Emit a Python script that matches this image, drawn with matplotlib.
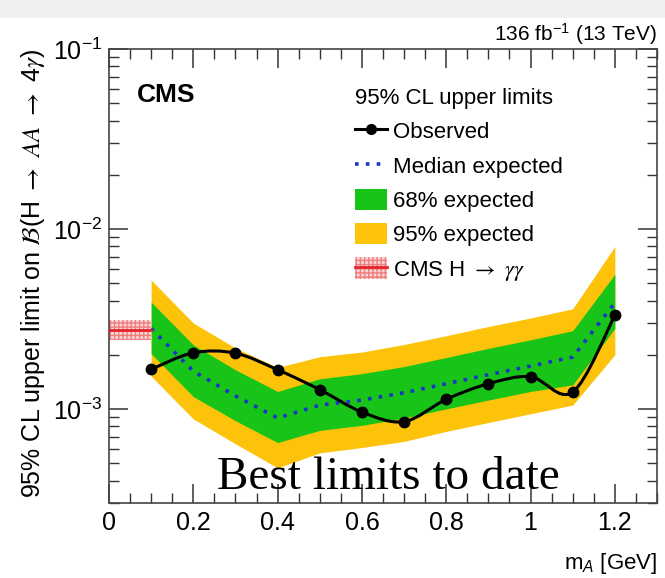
import numpy as np
import matplotlib
matplotlib.use("Agg")
import matplotlib.pyplot as plt
from matplotlib.lines import Line2D
from matplotlib.patches import Patch, PathPatch, Rectangle
from matplotlib.path import Path
from matplotlib.ticker import MultipleLocator, LogLocator, NullFormatter, FuncFormatter

plt.rcParams["font.family"] = ["Liberation Sans", "DejaVu Sans"]
plt.rcParams["mathtext.fontset"] = "custom"
plt.rcParams["mathtext.rm"] = "Liberation Sans"
plt.rcParams["mathtext.it"] = "Liberation Sans:italic"
plt.rcParams["mathtext.bf"] = "Liberation Sans:bold"

# values (limits in units of 1e-3)
mass = [0.1, 0.2, 0.3, 0.4, 0.5, 0.6, 0.7, 0.8, 0.9, 1.0, 1.1, 1.2]
observed = [1.66, 2.05, 2.04, 1.65, 1.28, 0.96, 0.85, 1.13, 1.38, 1.51, 1.24, 3.31]
median = [2.80, 1.62, 1.18, 0.89, 1.05, 1.12, 1.23, 1.38, 1.55, 1.73, 1.94, 3.88]
band68_hi = [3.92, 2.27, 1.65, 1.25, 1.47, 1.57, 1.72, 1.93, 2.17, 2.42, 2.72, 5.60]
band68_lo = [2.03, 1.17, 0.86, 0.65, 0.76, 0.81, 0.89, 1.00, 1.12, 1.25, 1.36, 2.80]
band95_hi = [5.20, 3.00, 2.18, 1.70, 1.95, 2.07, 2.28, 2.55, 2.87, 3.20, 3.60, 8.00]
band95_lo = [1.52, 0.88, 0.64, 0.47, 0.57, 0.61, 0.66, 0.75, 0.84, 0.94, 1.05, 2.00]

# CMS H -> gamma gamma result, drawn over 0 < m_A < 0.1
hgg_range = [0.0, 0.1]
hgg_central = 2.75
hgg_lo, hgg_hi = 2.40, 3.12

scale = 1e-3
x = np.array(mass)
obs = np.array(observed) * scale

GREEN = "#17c417"
YELLOW = "#fdc20a"
BLUE = "#1a34c4"

fig = plt.figure(figsize=(6.65, 5.78), dpi=100)
fig.patches.append(Rectangle((0, 1 - 18 / 578), 1, 18 / 578, transform=fig.transFigure,
                             facecolor="#efefef", edgecolor="none", zorder=0))
ax = fig.add_axes([109 / 665, 75 / 578, 548 / 665, 454 / 578])

ax.fill_between(x, np.array(band95_lo) * scale, np.array(band95_hi) * scale,
                color=YELLOW, linewidth=0, zorder=1)
ax.fill_between(x, np.array(band68_lo) * scale, np.array(band68_hi) * scale,
                color=GREEN, linewidth=0, zorder=2)
ax.plot(x, np.array(median) * scale, linestyle=(0, (1, 2)), color=BLUE, lw=2.6, zorder=3)

# H -> gamma gamma band
ax.fill_between(hgg_range, hgg_lo * scale, hgg_hi * scale, facecolor="#fcd6d6",
                edgecolor="#ef7f7f", hatch="++++", linewidth=0, zorder=2)
ax.plot(hgg_range, [hgg_central * scale] * 2, color="#e3242b", lw=2, zorder=3)

# smooth observed curve (Catmull-Rom through the points, in log space)
ly = np.log10(obs)
pts = np.column_stack([x, ly])
ext = np.vstack([pts[0], pts, pts[-1]])
verts = [pts[0]]
codes = [Path.MOVETO]
for i in range(len(pts) - 1):
    p0, p1, p2, p3 = ext[i], ext[i + 1], ext[i + 2], ext[i + 3]
    c1 = p1 + (p2 - p0) / 6
    c2 = p2 - (p3 - p1) / 6
    verts += [c1, c2, p2]
    codes += [Path.CURVE4] * 3
verts = np.array(verts)
verts[:, 1] = 10 ** verts[:, 1]
ax.add_patch(PathPatch(Path(verts, codes), facecolor="none", edgecolor="black",
                       lw=2.2, zorder=4))
ax.plot(x, obs, "o", color="black", ms=7.5, zorder=5)

ax.set_yscale("log")
ax.set_xlim(0, 1.3)
ax.set_ylim(3e-4, 1e-1)

ax.xaxis.set_major_locator(MultipleLocator(0.2))
ax.xaxis.set_minor_locator(MultipleLocator(0.05))
ax.yaxis.set_major_locator(LogLocator(base=10, numticks=10))
ax.yaxis.set_minor_locator(LogLocator(base=10, subs=np.arange(2, 10), numticks=20))
ax.yaxis.set_minor_formatter(NullFormatter())
ax.xaxis.set_major_formatter(FuncFormatter(lambda v, p: f"{v:g}"))

ax.tick_params(which="both", direction="in", top=True, right=True, colors="#333333",
               labelcolor="black", labelsize=18)
ax.tick_params(which="major", length=14, width=1.1)
ax.tick_params(which="minor", length=7, width=1.0)
ax.tick_params(axis="x", pad=6)
ax.tick_params(axis="y", pad=5)
for s in ax.spines.values():
    s.set_color("#444444")
    s.set_linewidth(1.2)

ax.set_xlabel(r"m$_{A}$ [GeV]", fontsize=16, loc="right", labelpad=11)
ax.set_ylabel(r"95% CL upper limit on $\mathcal{B}$(H $\rightarrow$ $AA$ $\rightarrow$ 4$\gamma$)",
              fontsize=18, loc="top", labelpad=4, math_fontfamily="stix")

ax.text(0.05, 0.925, "CMS", transform=ax.transAxes, fontsize=19, fontweight="bold",
        va="top", ha="left")
ax.text(1.0, 1.004, r"136 fb$^{-1}$ (13 TeV)", transform=ax.transAxes, fontsize=15,
        ha="right", va="bottom")
ax.text(0.51, 0.055, "Best limits to date", transform=ax.transAxes,
        fontsize=34, family="Liberation Serif", ha="center", va="center", zorder=6)

handles = [
    Line2D([], [], color="black", lw=2.2, marker="o", ms=7),
    Line2D([], [], color=BLUE, lw=2.6, linestyle=(0, (1, 2))),
    Patch(facecolor=GREEN, edgecolor="none"),
    Patch(facecolor=YELLOW, edgecolor="none"),
    (Patch(facecolor="#fcd6d6", edgecolor="#ef7f7f", hatch="++++", lw=0),
     Line2D([], [], color="#e3242b", lw=2)),
]
labels = ["Observed", "Median expected", "68% expected", "95% expected",
          r"CMS H $\rightarrow$ $\gamma\gamma$"]
leg = ax.legend(handles, labels, title="95% CL upper limits", loc="upper left",
                bbox_to_anchor=(355 / 665, 1 - 88 / 578), bbox_transform=fig.transFigure,
                frameon=False, fontsize=16, title_fontsize=16, alignment="left",
                borderpad=0, labelspacing=0.5, handlelength=1.45, handleheight=1.1,
                handletextpad=0.25, borderaxespad=0)
leg.get_texts()[4].set_math_fontfamily("stix")
leg.set_zorder(7)

fig.savefig("out.png", dpi=100)
